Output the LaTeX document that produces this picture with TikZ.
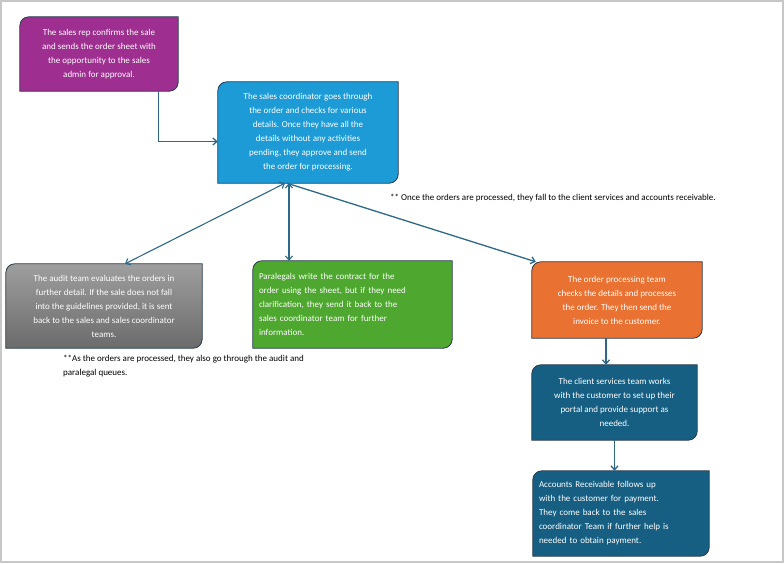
\documentclass[tikz,border=0pt]{standalone}
\usepackage{fontspec}
\setmainfont{Carlito}
\usetikzlibrary{arrows.meta,backgrounds}
\definecolor{repPurple}{HTML}{9E2E8F}
\definecolor{coordBlue}{HTML}{1D9BD6}
\definecolor{paraGreen}{HTML}{4EA72E}
\definecolor{procOrange}{HTML}{E97132}
\definecolor{teamTeal}{HTML}{165F82}
\definecolor{edgeDark}{HTML}{263A4C}
\definecolor{linkBlue}{HTML}{2D6887}
\tikzstyle{block} = [rectangle,inner sep=6pt,text=white,font=\fontsize{9}{14}\selectfont,align=center]
\tikzstyle{note} = [font=\fontsize{9}{14}\selectfont,align=left,anchor=north west,inner sep=0pt]
\tikzstyle{arrowLine} = [draw=linkBlue,line width=1.3pt,-{Straight Barb[length=4pt,width=7pt]}]
\tikzstyle{twoWay} = [draw=linkBlue,line width=1.1pt,{Straight Barb[length=4pt,width=7pt]}-{Straight Barb[length=4pt,width=7pt]}]
% outline of a box with two rounded corners
\newcommand{\snipPath}[1]{(#1.south west) -- ([yshift=-9pt]#1.north west)
    arc[start angle=180,end angle=90,radius=9pt] -- (#1.north east) -- ([yshift=9pt]#1.south east)
    arc[start angle=0,end angle=-90,radius=9pt] -- cycle}
\newcommand{\snipBox}[2]{\filldraw[fill=#2,draw=edgeDark,line width=0.8pt] \snipPath{#1};}
\begin{document}
\begin{tikzpicture}[x=1pt,y=1pt]
	\draw[color=black!22,line width=2pt] (1,-1) rectangle (783,-562);
	\node[block,minimum width=158pt,minimum height=74pt](rep) at (99,-54){The sales rep confirms the sale\\and sends the order sheet with\\the opportunity to the sales\\admin for approval.};
	\node[block,minimum width=180pt,minimum height=101pt](coord) at (308,-132.5){The sales coordinator goes through\\the order and checks for various\\details. Once they have all the\\details without any activities\\pending, they approve and send\\the order for processing.};
	\node[block,minimum width=196pt,minimum height=84pt](audit) at (104,-306){The audit team evaluates the orders in\\further detail. If the sale does not fall\\into the guidelines provided, it is sent\\back to the sales and sales coordinator\\teams.};
	\node[block,align=left,minimum width=199pt,minimum height=87pt,text width=187pt](para) at (352.5,-304.5){Paralegals write the contract for the\\order using the sheet, but if they need\\clarification, they send it back to the\\sales coordinator team for further\\information.};
	\node[block,minimum width=170pt,minimum height=76pt](proc) at (617,-300){The order processing team\\checks the details and processes\\the order. They then send the\\invoice to the customer.};
	\node[block,minimum width=165pt,minimum height=75pt](client) at (614.5,-402.5){The client services team works\\with the customer to set up their\\portal and provide support as\\needed.};
	\node[block,align=left,minimum width=176pt,minimum height=85pt,text width=164pt](receivable) at (621,-513.5){Accounts Receivable follows up\\with the customer for payment.\\They come back to the sales\\coordinator Team if further help is\\needed to obtain payment.};
	\node[note](procNote) at (390,-194){** Once the orders are processed, they fall to the client services and accounts receivable.};
	\node[note](queueNote) at (63,-355){**As the orders are processed, they also go through the audit and\\paralegal queues.};
	\begin{scope}[on background layer]
		\snipBox{rep}{repPurple}
		\snipBox{coord}{coordBlue}
		\shade[top color=black!38,bottom color=black!58] \snipPath{audit};
		\draw[draw=edgeDark,line width=0.8pt] \snipPath{audit};
		\snipBox{para}{paraGreen}
		\snipBox{proc}{procOrange}
		\snipBox{client}{teamTeal}
		\snipBox{receivable}{teamTeal}
	\end{scope}
	%arrows
	\path[arrowLine]([xshift=-20pt]rep.south east) |- ([yshift=-9pt]coord.west);
	\path[twoWay]([xshift=-23pt]coord.south) -- ([xshift=21pt]audit.north);
	\path[twoWay]([xshift=-19pt]coord.south) -- ([xshift=-63.5pt]para.north);
	\path[arrowLine]([xshift=-21pt]coord.south) -- ([xshift=4pt]proc.north west);
	\path[arrowLine]([xshift=-11pt]proc.south) -- ([xshift=-11pt]proc.south |- client.north);
	\path[arrowLine](client.south) -- (client.south |- receivable.north);
\end{tikzpicture}
\end{document}
